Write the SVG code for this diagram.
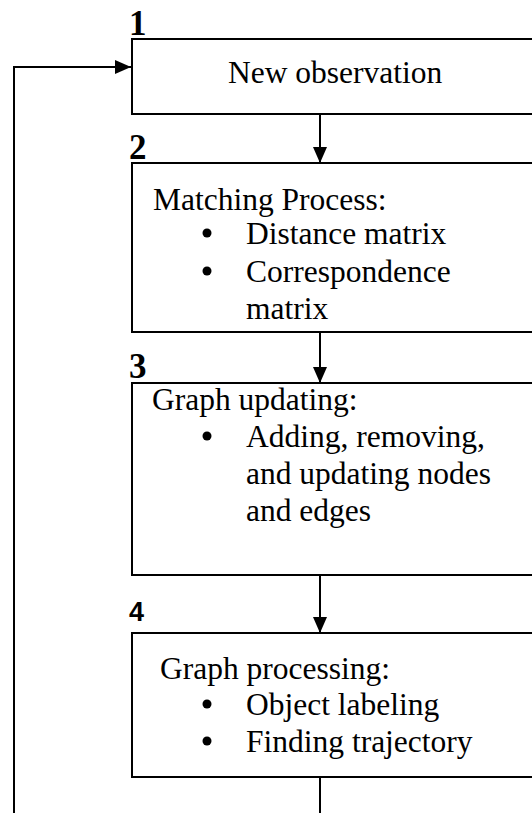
<svg xmlns="http://www.w3.org/2000/svg" width="532" height="813" viewBox="0 0 532 813">
  <defs>
    <marker id="arrow" viewBox="0 0 16 14" refX="16" refY="7" markerWidth="16" markerHeight="14" markerUnits="userSpaceOnUse" orient="auto">
      <path d="M0,0 L16,7 L0,14 Z" fill="#000"/>
    </marker>
    <style>
      .box { fill: #fff; stroke: #000; stroke-width: 2; }
      .link { fill: none; stroke: #000; stroke-width: 2; }
      .txt { font-family: "Liberation Serif", "Times New Roman", serif; font-size: 31.5px; fill: #000; }
      .num { font-family: "Liberation Serif", "Times New Roman", serif; font-size: 35px; font-weight: bold; fill: #000; }
      .numsans { font-family: "Liberation Sans", Arial, sans-serif; font-size: 27px; font-weight: bold; fill: #000; }
      .dot { fill: #000; }
    </style>
  </defs>
  <rect width="532" height="813" fill="#fff"/>

  <!-- connectors -->
  <g id="connectors">
    <path class="link" d="M14,813 L14,67 L131,67" marker-end="url(#arrow)"/>
    <path class="link" d="M320,114 L320,163" marker-end="url(#arrow)"/>
    <path class="link" d="M320,332 L320,383" marker-end="url(#arrow)"/>
    <path class="link" d="M320,575 L320,633" marker-end="url(#arrow)"/>
    <path class="link" d="M320,777 L320,813"/>
  </g>

  <!-- step 1 -->
  <g id="node1">
    <text class="num" x="129" y="35">1</text>
    <rect class="box" x="132" y="39" width="420" height="75"/>
    <text class="txt" x="228" y="83">New observation</text>
  </g>

  <!-- step 2 -->
  <g id="node2">
    <text class="num" x="129" y="159">2</text>
    <rect class="box" x="132" y="163" width="420" height="169"/>
    <text class="txt" x="153" y="210">Matching Process:</text>
    <circle class="dot" cx="207" cy="233" r="4.5"/>
    <text class="txt" x="246" y="244">Distance matrix</text>
    <circle class="dot" cx="207" cy="271" r="4.5"/>
    <text class="txt" x="246" y="282">Correspondence</text>
    <text class="txt" x="246" y="319">matrix</text>
  </g>

  <!-- step 3 -->
  <g id="node3">
    <text class="num" x="129" y="378">3</text>
    <rect class="box" x="132" y="383" width="420" height="192"/>
    <text class="txt" x="152" y="410">Graph updating:</text>
    <circle class="dot" cx="207" cy="436" r="4.5"/>
    <text class="txt" x="246" y="447">Adding, removing,</text>
    <text class="txt" x="246" y="484">and updating nodes</text>
    <text class="txt" x="246" y="521">and edges</text>
  </g>

  <!-- step 4 -->
  <g id="node4">
    <text class="numsans" x="129" y="621">4</text>
    <rect class="box" x="132" y="633" width="420" height="144"/>
    <text class="txt" x="160" y="679">Graph processing:</text>
    <circle class="dot" cx="207" cy="704" r="4.5"/>
    <text class="txt" x="246" y="715">Object labeling</text>
    <circle class="dot" cx="207" cy="741" r="4.5"/>
    <text class="txt" x="246" y="752">Finding trajectory</text>
  </g>
</svg>
